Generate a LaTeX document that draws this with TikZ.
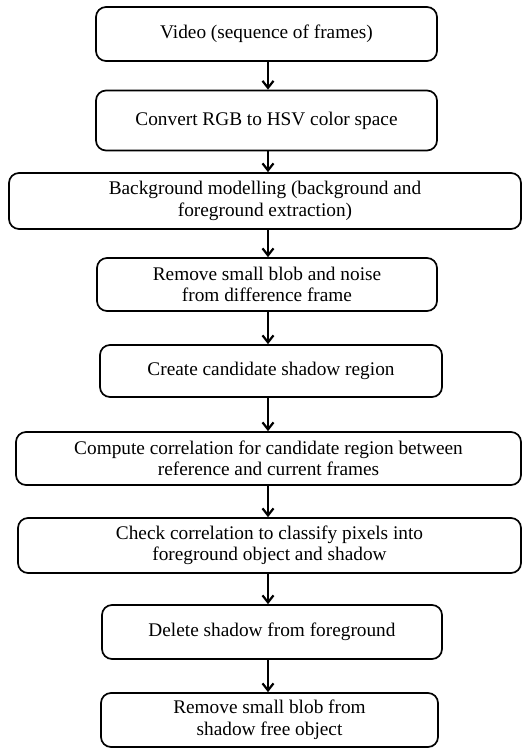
\documentclass[tikz,border=0pt]{standalone}
\usepackage{fontspec}
\setmainfont{Liberation Serif}
\usetikzlibrary{arrows.meta}
\begin{document}
\begin{tikzpicture}[x=1pt,y=-1pt,
  stepbox/.style={draw, line width=1.7pt, rounded corners=10pt, inner sep=0pt,
    align=center, font=\fontsize{19.3}{21.5}\selectfont},
  arr/.style={line width=1.7pt, -{Straight Barb[length=7pt,width=11pt,line width=2.2pt]}}]
\useasboundingbox (0,0) rectangle (522,749);
\node[stepbox, minimum width=341pt, minimum height=54pt] (b1) at (266.5,34) {Video (sequence of frames)};
\node[stepbox, minimum width=341pt, minimum height=60pt] (b2) at (266.5,120.5) {Convert RGB to HSV color space};
\node[stepbox, minimum width=512pt, minimum height=56pt] (b3) at (265,201) {Background modelling (background and\\foreground extraction)};
\node[stepbox, minimum width=340pt, minimum height=53pt] (b4) at (267,284.5) {Remove small blob and noise\\from difference frame};
\node[stepbox, minimum width=342pt, minimum height=52pt] (b5) at (271,371) {Create candidate shadow region};
\node[stepbox, minimum width=505pt, minimum height=53pt] (b6) at (268.5,458.5) {Compute correlation for candidate region between\\reference and current frames};
\node[stepbox, minimum width=503pt, minimum height=55pt] (b7) at (269.5,545.5) {Check correlation to classify pixels into\\foreground object and shadow};
\node[stepbox, minimum width=340pt, minimum height=54pt] (b8) at (272,632) {Delete shadow from foreground};
\node[stepbox, minimum width=337pt, minimum height=54pt] (b9) at (269.5,720) {Remove small blob from\\shadow free object};
\coordinate (ax) at (268,0);
\foreach \a/\b in {b1/b2,b2/b3,b3/b4,b4/b5,b5/b6,b6/b7,b7/b8,b8/b9}
  \draw[arr] (\a.south -| ax) -- (\b.north -| ax);
\end{tikzpicture}
\end{document}
